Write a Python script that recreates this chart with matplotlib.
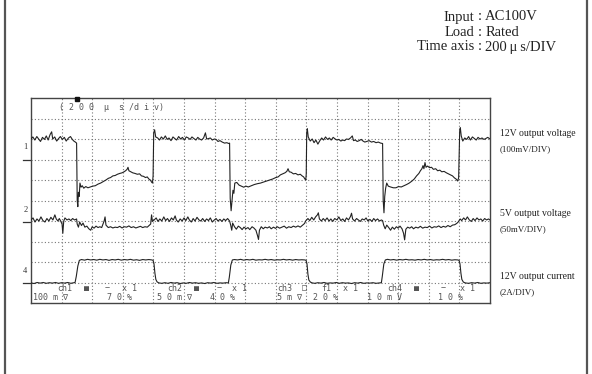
import matplotlib
matplotlib.use("Agg")
import matplotlib.pyplot as plt
from matplotlib.lines import Line2D

# time in us (200 us/DIV, 15 DIV on screen), levels in screen divisions (0..10)
ch1_12v = [
    (0, 8.0), (12, 8.1), (25, 7.95), (38, 8.12), (50, 8.0), (62, 7.88), (75, 8.08), (88, 7.98),
    (100, 8.15), (112, 7.95), (125, 8.22), (135, 8.35), (142, 8.0), (155, 8.1), (168, 7.9),
    (180, 8.02), (192, 8.12), (205, 7.98), (218, 8.08), (230, 7.9), (245, 8.05), (258, 8.12),
    (270, 7.98), (280, 7.9), (290, 7.85), (298, 7.8),
    (302, 5.0), (306, 4.7), (310, 5.4), (315, 5.2), (320, 5.85), (327, 5.65), (335, 5.72),
    (345, 5.6), (358, 5.68), (372, 5.62), (388, 5.66), (403, 5.7), (420, 5.72), (438, 5.8),
    (455, 5.85), (472, 5.92), (490, 6.0), (505, 6.08), (520, 6.12), (535, 6.2), (550, 6.22),
    (565, 6.28), (580, 6.32), (595, 6.35), (608, 6.4), (618, 6.45), (628, 6.52), (634, 6.62),
    (640, 6.45), (652, 6.4), (665, 6.35), (680, 6.32), (695, 6.28), (710, 6.3), (722, 6.2),
    (735, 6.18), (748, 6.12), (760, 6.15), (770, 6.05), (780, 6.0), (788, 5.9), (794, 5.85),
    (798, 6.2),
    (802, 8.3), (808, 8.45), (815, 8.1), (828, 8.05), (840, 7.95), (852, 8.1), (865, 8.0),
    (878, 8.15), (890, 7.98), (902, 8.05), (915, 7.92), (928, 8.1), (940, 8.02), (952, 7.95),
    (965, 8.12), (978, 8.0), (990, 8.08), (1002, 7.95), (1015, 8.1), (1028, 8.05), (1040, 7.98),
    (1052, 8.1), (1065, 8.02), (1078, 7.95), (1090, 8.08), (1102, 8.0), (1115, 7.95),
    (1128, 8.05), (1140, 8.3), (1148, 8.0), (1160, 8.02), (1172, 8.05), (1185, 7.95),
    (1198, 8.0), (1210, 7.98), (1222, 7.88), (1235, 7.92), (1250, 7.85), (1265, 7.8),
    (1280, 7.82), (1292, 7.78), (1298, 7.8),
    (1302, 5.1), (1308, 4.5), (1314, 5.0), (1320, 5.5), (1326, 5.35), (1332, 5.85), (1345, 5.88),
    (1360, 5.75), (1375, 5.7), (1390, 5.65), (1405, 5.7), (1420, 5.66), (1440, 5.72),
    (1460, 5.78), (1480, 5.82), (1500, 5.85), (1520, 5.9), (1540, 5.95), (1560, 6.0),
    (1580, 6.05), (1600, 6.12), (1615, 6.15), (1630, 6.25), (1645, 6.3), (1660, 6.35),
    (1672, 6.42), (1680, 6.55), (1688, 6.4), (1700, 6.38), (1715, 6.3), (1730, 6.32),
    (1745, 6.25), (1760, 6.28), (1772, 6.2), (1782, 6.15), (1790, 6.05), (1796, 6.0), (1799, 6.3),
    (1802, 8.3), (1806, 8.5), (1812, 8.1), (1825, 7.9), (1838, 8.0), (1850, 7.82), (1862, 7.95),
    (1875, 7.75), (1888, 7.92), (1900, 8.05), (1912, 7.95), (1925, 8.1), (1938, 7.98),
    (1950, 8.05), (1962, 7.95), (1975, 8.08), (1988, 8.0), (2000, 7.95), (2012, 7.98),
    (2025, 7.9), (2038, 7.95), (2050, 7.92), (2062, 8.0), (2075, 7.98), (2088, 8.05),
    (2100, 8.15), (2108, 7.92), (2120, 7.95), (2132, 7.88), (2145, 7.92), (2158, 7.98),
    (2170, 7.9), (2182, 7.85), (2195, 7.88), (2210, 7.92), (2225, 7.85), (2240, 7.88),
    (2255, 7.82), (2270, 7.85), (2285, 7.8), (2298, 7.78),
    (2302, 5.0), (2307, 4.4), (2312, 5.2), (2318, 5.6), (2325, 5.85), (2335, 5.7), (2350, 5.66),
    (2368, 5.62), (2385, 5.62), (2402, 5.68), (2420, 5.66), (2438, 5.72), (2455, 5.78),
    (2472, 5.85), (2490, 5.95), (2505, 6.05), (2520, 6.2), (2535, 6.32), (2545, 6.45),
    (2555, 6.55), (2562, 6.7), (2568, 6.55), (2575, 6.85), (2582, 6.62), (2592, 6.68),
    (2605, 6.6), (2618, 6.62), (2630, 6.52), (2645, 6.55), (2658, 6.45), (2672, 6.48),
    (2685, 6.4), (2700, 6.42), (2715, 6.35), (2728, 6.3), (2742, 6.25), (2755, 6.2),
    (2768, 6.1), (2778, 6.05), (2788, 5.95), (2795, 6.1),
    (2802, 8.4), (2806, 8.55), (2812, 8.15), (2822, 7.9), (2835, 8.05), (2848, 7.98),
    (2860, 8.12), (2872, 7.95), (2885, 8.1), (2898, 8.02), (2910, 7.95), (2922, 8.08),
    (2935, 8.0), (2948, 8.05), (2960, 7.98), (2972, 8.02), (2985, 8.08), (3000, 8.0),
]

ch2_5v = [
    (0, 4.05), (13, 4.15), (26, 3.95), (39, 4.1), (52, 4.0), (65, 4.2), (78, 4.02), (91, 3.95),
    (104, 4.12), (117, 4.0), (130, 4.18), (143, 4.05), (156, 4.3), (165, 4.1), (176, 4.0),
    (185, 4.12), (195, 3.98), (203, 3.85), (208, 3.4), (214, 4.0), (222, 4.15), (235, 4.05),
    (248, 4.1), (260, 4.02), (272, 4.12), (285, 4.05), (298, 4.1),
    (302, 3.85), (310, 3.7), (318, 3.95), (330, 3.78), (340, 3.9), (352, 3.7), (365, 3.75),
    (378, 3.62), (390, 3.55), (400, 3.72), (412, 3.65), (425, 3.75), (438, 3.68), (450, 3.72),
    (462, 3.68), (478, 4.0), (484, 4.2), (490, 3.8), (505, 3.68), (520, 3.72), (535, 3.66),
    (550, 3.7), (565, 3.68), (580, 3.74), (595, 3.66), (610, 3.72), (625, 3.7), (640, 3.76),
    (655, 3.68), (670, 3.72), (685, 3.66), (700, 3.7), (715, 3.74), (730, 3.68), (745, 3.72),
    (760, 3.7), (772, 3.78), (782, 3.85), (788, 4.3), (794, 3.98), (805, 4.05),
    (818, 4.15), (830, 3.98), (842, 4.1), (855, 4.0), (868, 4.2), (880, 4.02), (892, 4.12),
    (905, 3.98), (918, 4.15), (930, 4.05), (942, 4.25), (950, 4.05), (962, 3.95), (975, 4.1),
    (988, 4.0), (1000, 4.15), (1012, 4.02), (1025, 4.2), (1035, 4.05), (1048, 3.95),
    (1060, 4.12), (1072, 4.0), (1085, 4.18), (1098, 4.05), (1110, 4.0), (1122, 4.12),
    (1135, 3.98), (1148, 4.1), (1160, 4.02), (1172, 4.15), (1185, 3.95), (1198, 4.05),
    (1210, 4.12), (1222, 4.0), (1235, 4.08), (1248, 3.98), (1260, 4.1), (1272, 4.02),
    (1285, 4.12), (1298, 4.0),
    (1305, 3.8), (1312, 3.55), (1318, 3.9), (1330, 3.72), (1342, 3.6), (1355, 3.75),
    (1368, 3.68), (1380, 3.58), (1392, 3.7), (1405, 3.62), (1418, 3.68), (1430, 3.58),
    (1445, 3.72), (1458, 3.65), (1470, 3.55), (1480, 3.3), (1487, 3.1), (1493, 3.55),
    (1505, 3.72), (1518, 3.62), (1530, 3.7), (1545, 3.66), (1558, 3.72), (1570, 3.62),
    (1585, 3.7), (1598, 3.64), (1610, 3.72), (1625, 3.65), (1640, 3.7), (1655, 3.75),
    (1670, 3.65), (1685, 3.72), (1700, 3.68), (1715, 3.75), (1730, 3.7), (1745, 3.76),
    (1760, 3.7), (1775, 3.8), (1788, 3.88), (1795, 4.0),
    (1810, 4.12), (1822, 4.02), (1835, 4.18), (1848, 4.05), (1860, 4.2), (1872, 4.3),
    (1878, 4.4), (1885, 4.1), (1898, 4.0), (1910, 4.12), (1922, 4.02), (1935, 4.15),
    (1948, 4.0), (1960, 4.1), (1972, 3.98), (1985, 4.12), (2000, 4.05), (2012, 4.2),
    (2025, 4.02), (2038, 4.1), (2050, 3.98), (2062, 4.15), (2075, 4.05), (2088, 4.22),
    (2095, 4.38), (2102, 4.1), (2115, 4.0), (2128, 4.12), (2140, 4.05), (2152, 3.98),
    (2165, 4.1), (2178, 4.05), (2190, 4.15), (2202, 4.0), (2215, 4.08), (2228, 3.98),
    (2240, 4.12), (2252, 4.02), (2265, 4.1), (2278, 4.0), (2290, 4.05), (2298, 4.02),
    (2305, 3.8), (2315, 3.62), (2325, 3.8), (2338, 3.68), (2350, 3.55), (2362, 3.7),
    (2375, 3.6), (2388, 3.72), (2400, 3.65), (2412, 3.75), (2425, 3.62), (2435, 3.4),
    (2442, 3.08), (2450, 3.6), (2462, 3.7), (2475, 3.65), (2488, 3.72), (2500, 3.62),
    (2515, 3.7), (2530, 3.66), (2545, 3.74), (2560, 3.65), (2575, 3.7), (2590, 3.68),
    (2605, 3.75), (2620, 3.66), (2635, 3.72), (2650, 3.7), (2665, 3.76), (2680, 3.68),
    (2695, 3.74), (2710, 3.7), (2725, 3.78), (2740, 3.72), (2755, 3.8), (2770, 3.82),
    (2782, 3.88), (2792, 3.95),
    (2805, 4.1), (2815, 4.02), (2828, 4.15), (2840, 4.05), (2852, 4.2), (2865, 4.05),
    (2878, 3.98), (2890, 4.12), (2902, 4.02), (2915, 4.15), (2928, 4.05), (2940, 4.1),
    (2952, 4.0), (2965, 4.12), (2978, 4.05), (2990, 4.1), (3000, 4.05),
]

ch4_current = [
    (0, 0.98), (20, 0.95), (40, 1.0), (60, 0.97), (80, 1.0), (100, 0.96), (120, 0.99), (140, 0.97),
    (160, 1.0), (180, 0.96), (200, 0.99), (220, 0.97), (240, 1.0), (260, 0.96), (280, 0.99),
    (288, 1.0), (296, 1.3), (306, 1.8), (316, 2.08),
    (330, 2.12), (350, 2.09), (370, 2.13), (390, 2.1), (410, 2.12), (430, 2.09), (450, 2.13),
    (470, 2.1), (490, 2.12), (510, 2.08), (530, 2.12), (550, 2.1), (570, 2.13), (590, 2.09),
    (610, 2.12), (630, 2.1), (650, 2.13), (670, 2.09), (690, 2.11), (710, 2.08), (730, 2.12),
    (750, 2.1), (770, 2.12), (790, 2.1), (798, 2.08),
    (804, 1.9), (810, 1.45), (816, 1.15), (824, 1.03), (836, 0.98),
    (855, 0.96), (875, 0.99), (895, 0.96), (915, 1.0), (935, 0.97), (955, 0.99), (975, 0.95),
    (995, 0.98), (1015, 0.96), (1035, 1.0), (1055, 0.97), (1075, 0.99), (1095, 0.96),
    (1115, 0.98), (1135, 0.95), (1155, 0.99), (1175, 0.97), (1195, 1.0), (1215, 0.96),
    (1235, 0.98), (1255, 0.97), (1275, 0.99), (1290, 0.98),
    (1296, 1.25), (1306, 1.85), (1316, 2.1),
    (1330, 2.12), (1350, 2.1), (1370, 2.13), (1390, 2.09), (1410, 2.12), (1430, 2.1),
    (1450, 2.13), (1470, 2.09), (1490, 2.11), (1510, 2.1), (1530, 2.13), (1550, 2.1),
    (1570, 2.12), (1590, 2.09), (1610, 2.11), (1630, 2.1), (1650, 2.13), (1670, 2.1),
    (1690, 2.12), (1710, 2.09), (1730, 2.12), (1750, 2.1), (1770, 2.11), (1790, 2.1),
    (1798, 2.08),
    (1804, 1.9), (1810, 1.4), (1816, 1.12), (1826, 1.02), (1838, 0.98),
    (1855, 0.96), (1875, 0.99), (1895, 0.97), (1915, 1.0), (1935, 0.96), (1955, 0.98),
    (1975, 0.97), (1995, 1.0), (2015, 0.96), (2035, 0.99), (2055, 0.97), (2075, 0.98),
    (2095, 0.95), (2115, 0.99), (2135, 0.97), (2155, 1.0), (2175, 0.96), (2195, 0.98),
    (2215, 0.97), (2235, 0.99), (2255, 0.96), (2275, 0.98), (2290, 0.99),
    (2296, 1.3), (2306, 1.9), (2316, 2.1),
    (2330, 2.13), (2350, 2.1), (2370, 2.12), (2390, 2.09), (2410, 2.12), (2430, 2.1),
    (2450, 2.13), (2470, 2.1), (2490, 2.11), (2510, 2.09), (2530, 2.12), (2550, 2.1),
    (2570, 2.13), (2590, 2.1), (2610, 2.12), (2630, 2.09), (2650, 2.11), (2670, 2.1),
    (2690, 2.13), (2710, 2.1), (2730, 2.12), (2750, 2.09), (2770, 2.11), (2790, 2.1),
    (2798, 2.08),
    (2804, 1.9), (2810, 1.45), (2816, 1.15), (2826, 1.02), (2838, 0.98),
    (2860, 0.96), (2880, 0.99), (2900, 0.97), (2920, 1.0), (2940, 0.96), (2960, 0.98),
    (2980, 0.97), (3000, 0.99),
]

trigger_time = 300
ch_markers = [("1", 7.0), ("2", 3.95), ("4", 0.98)]
trace_labels = [("12V output voltage", "(100mV/DIV)", 8.0),
                ("5V output voltage", "(50mV/DIV)", 4.1),
                ("12V output current", "(2A/DIV)", 1.05)]
conditions = [("Input", "AC100V"), ("Load", "Rated"), ("Time axis", "200\u2009\u03bc\u2009s/DIV")]

# scope readout text: (time position in us, row, text)
readout = [
    (170, 0, "ch1"), (345, 0, "\u25a0"), (480, 0, "\u2212"), (595, 0, "x 1"),
    (889, 0, "ch2"), (1065, 0, "\u25a0"), (1210, 0, "\u2212"), (1314, 0, "x 1"),
    (1608, 0, "ch3"), (1770, 0, "\u25a1"), (1900, 0, "f1"), (2039, 0, "x 1"),
    (2327, 0, "ch4"), (2505, 0, "\u25a0"), (2675, 0, "\u2212"), (2804, 0, "x 1"),
    (13, 1, "100 m \u2207"), (497, 1, "7 0 %"), (824, 1, "5 0 m \u2207"), (1170, 1, "4 0 %"),
    (1608, 1, "5 m \u2207"), (1843, 1, "2 0 %"), (2196, 1, "1 0 m V"), (2660, 1, "1 0 %"),
]

fig = plt.figure(figsize=(5.92, 3.74), dpi=100)
fig.patch.set_facecolor("white")

# outer frame (left / right sides only visible)
fig.add_artist(Line2D([4.5 / 592, 4.5 / 592], [0, 1], color="#555555", lw=1.6))
fig.add_artist(Line2D([587 / 592, 587 / 592], [0, 1], color="#555555", lw=1.6))

ax = fig.add_axes([31 / 592, 1 - 303 / 374, 459 / 592, 205 / 374])
ax.set_xlim(0, 3000)
ax.set_ylim(0, 10)
ax.set_xticks([])
ax.set_yticks([])
for s in ax.spines.values():
    s.set_color("#444444")
    s.set_linewidth(1.0)

for k in range(1, 15):
    ax.axvline(k * 200, color="#777777", lw=0.8, ls=(0, (1, 2)), zorder=1)
for k in range(1, 10):
    ax.axhline(k, color="#777777", lw=0.8, ls=(0, (1, 2)), zorder=1)

for trace in (ch1_12v, ch2_5v, ch4_current):
    t = [p[0] for p in trace]
    v = [p[1] for p in trace]
    ax.plot(t, v, color="#222222", lw=0.8, zorder=3)

# trigger mark sitting on the top edge
ax.plot([trigger_time], [9.95], marker="s", ms=3.2, color="#111111", clip_on=False, zorder=5)

mono = {"family": "DejaVu Sans Mono", "color": "#555555", "fontsize": 6}
ax.text(180, 9.55, "( 2 0 0  \u00b5  s /d i v)", va="center", ha="left", **mono)
row_y = [0.73, 0.29]
for t, r, s in readout:
    ax.text(t, row_y[r], s, va="center", ha="left", **mono)

# channel ground markers on the left
for lab, lvl in ch_markers:
    ax.text(-0.008, lvl + 0.6, lab, transform=ax.get_yaxis_transform(), ha="right", va="center",
            fontsize=6, family="Liberation Serif", color="#333333")
    ax.plot([-0.018, -0.002], [lvl, lvl], transform=ax.get_yaxis_transform(), color="#333333",
            lw=0.9, clip_on=False)

# trace labels on the right
for main, sub, lvl in trace_labels:
    ax.text(1.022, lvl + 0.25, main, transform=ax.get_yaxis_transform(), ha="left", va="center",
            fontsize=7, family="Liberation Serif", color="#222222")
    ax.text(1.022, lvl - 0.5, sub, transform=ax.get_yaxis_transform(), ha="left", va="center",
            fontsize=6.5, family="Liberation Serif", color="#222222")

# test condition block, colons aligned
cx = 480 / 592
for i, (k, val) in enumerate(conditions):
    y = 1 - (17 + 15 * i) / 374
    fig.text(cx - 0.009, y, k, ha="right", va="center", fontsize=10.5, family="Liberation Serif", color="#222222")
    fig.text(cx, y, ":", ha="center", va="center", fontsize=10.5, family="Liberation Serif", color="#222222")
    fig.text(cx + 0.009, y, val, ha="left", va="center", fontsize=10.5, family="Liberation Serif", color="#222222")

fig.savefig("out.png", dpi=100)
